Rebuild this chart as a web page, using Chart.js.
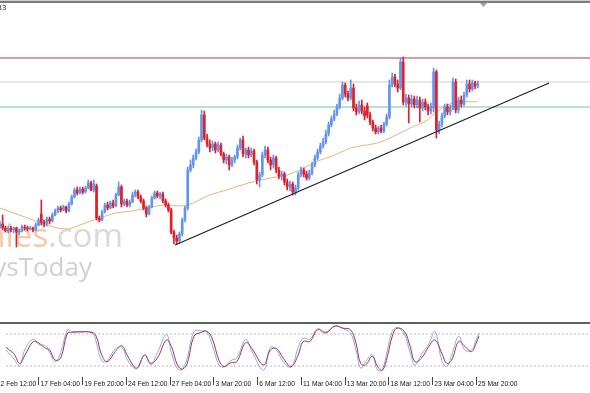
<!DOCTYPE html>
<html>
<head>
<meta charset="utf-8">
<script src="https://cdn.jsdelivr.net/npm/chart.js@4.4.1/dist/chart.umd.min.js"></script>
<style>
  html, body { margin: 0; padding: 0; background: #fff; }
  #wrap { position: relative; width: 590px; height: 393px; overflow: hidden; }
  canvas { position: absolute; left: 0; }
  #main { top: 0; }
  #osc { top: 322px; }
</style>
</head>
<body>
<div id="wrap">
  <canvas id="main" width="590" height="322"></canvas>
  <canvas id="osc" width="590" height="71"></canvas>
</div>
<script>
// H4 candles, [open, high, low, close] in chart points
const ohlc = [
  [93,99,91,96],[96,105,90,92],[92,94,88,89],[89,94,87,92],[92,94,88,90],
  [90,93,87,92],[92,93,73,88],[88,91,85,90],[90,95,88,93],[93,95,90,92],
  [92,94,89,91],[91,94,90,92],[92,93,88,90],[90,97,89,95],[95,102,94,100],
  [106,120,95,98],[98,100,93,96],[96,103,94,101],[101,103,96,99],[99,107,98,105],
  [105,111,104,109],[109,114,107,112],[112,114,108,110],[110,115,109,113],[113,114,107,109],
  [109,118,108,116],[116,125,115,123],[123,132,122,130],[130,133,125,127],[127,133,126,131],
  [131,133,126,128],[128,134,127,132],[132,140,131,137],[137,139,129,130],[130,140,128,136],
  [134,136,100,102],[102,104,98,100],[100,110,99,108],[108,117,107,115],[115,118,110,112],
  [112,119,111,117],[117,120,112,114],[114,127,113,125],[125,138,124,133],[133,135,113,116],
  [116,121,114,119],[119,121,113,115],[115,120,113,118],[118,128,117,125],[125,130,123,128],
  [128,130,121,123],[123,125,117,119],[119,121,110,112],[112,114,103,106],[106,115,105,113],
  [113,124,112,122],[122,129,121,127],[127,129,122,124],[124,128,121,126],[126,128,117,119],
  [119,121,113,115],[115,117,108,110],[110,112,86,88],[88,90,76,82],[82,85,76,79],
  [79,88,77,86],[86,102,84,100],[100,114,98,112],[112,153,110,150],[150,160,148,155],
  [155,165,152,162],[162,171,160,168],[168,183,166,180],[180,210,178,205],[205,209,180,182],
  [182,186,173,176],[176,180,168,172],[172,179,169,176],[176,178,167,170],[170,178,168,175],
  [175,177,164,166],[166,168,157,160],[160,166,156,163],[163,165,150,155],[155,163,153,160],
  [160,165,157,163],[163,175,161,172],[172,182,170,180],[180,184,163,166],[166,172,162,170],
  [170,173,162,165],[165,172,163,169],[169,171,155,158],[158,160,136,140],[140,148,133,145],
  [145,168,143,165],[165,174,162,170],[170,173,157,160],[160,163,150,155],[155,165,152,162],
  [162,164,147,150],[150,153,141,144],[144,149,140,146],[146,148,135,138],[138,141,130,133],
  [133,139,129,136],[136,138,125,128],[128,135,125,132],[132,148,130,145],[145,153,143,150],
  [150,152,143,146],[146,149,140,142],[142,150,140,147],[147,158,145,155],[155,165,153,162],
  [162,171,160,168],[168,177,166,174],[174,182,172,178],[178,190,176,186],[186,198,184,195],
  [195,204,193,201],[201,210,199,206],[206,216,204,213],[213,226,211,222],[222,238,220,235],
  [235,237,223,226],[226,229,219,222],[222,240,220,232],[232,236,209,212],[212,216,205,208],
  [208,219,206,215],[215,220,206,209],[209,213,200,204],[214,217,202,205],[205,208,195,198],
  [198,200,189,192],[192,195,186,188],[188,194,186,192],[192,195,187,189],[189,198,187,196],
  [196,206,194,203],[203,240,201,235],[235,247,233,243],[243,246,233,236],[236,240,228,232],
  [232,262,230,258],[258,263,215,218],[218,226,214,222],[222,225,197,216],[216,225,213,221],
  [221,224,212,215],[215,224,212,220],[220,223,198,212],[212,221,209,218],[218,221,210,213],
  [213,216,205,209],[209,217,206,214],[212,252,208,248],[248,250,182,190],[190,199,186,196],
  [196,207,193,204],[204,216,202,213],[213,216,205,208],[208,215,205,212],[212,242,210,238],
  [238,241,207,210],[210,223,207,220],[220,224,213,216],[216,228,214,225],[225,240,223,236],
  [236,240,228,231],[231,240,229,237],[237,239,231,234],[234,239,232,236]
];

// moving average (bar index, value)
const maIdx = [0,12,18,24,30,35,42,48,55,60,65,68,76,82,90,98,104,110,116,119.5,127,136.5,142,148.5,154.7,158,165.5,169,173];
const maVal = [112,100,94,91,96,101,107,109,113,115,114,115,125,130,137,142,145,152,160,163,172,177,183,192,200,208,218,218.5,218];

// support trend line
const trendIdx = [63.4, 198.8];
const trendVal = [75, 237];

// horizontal levels: resistance, mid, support
const levelVals = [262, 238, 213];

// stochastic oscillator (bar index, %K, %D)
const oscIdx = [0,3,5,7,10,12,14.5,16,18,20,22.5,24,26.5,31.5,33,35,37,40,42.4,44.6,
  47.8,50.7,53,55.4,58.7,60.5,62.7,64.5,66.3,68.8,71.4,73.5,75.4,77.9,79.7,82.2,84.4,87.7,89.9,94.2,
  96.7,98.9,101.4,104.3,106.9,108.7,111.2,114,117,120.3,123.2,126,128,129.7,131.5,134,135.9,137.7,139.5,141.3,
  143,145.7,147.8,149.6,152,154.7,156.9,159.4,161.2,163,165.6,167.8,170.3,172,173];
const stochK = [50,33,20,52,70,60,58,45,28,45, 88,85,84,82,65,30,30,52,55,30,
  15,40,23,45,79,45,15,14,35,85, 86,84,60,22,18,30,35,70,48,12,
  55,50,28,18,55,72,70,90,84,95, 90,82,50,16,28,41,12,14,50,85,
  92,80,45,22,42,62,85,30,19,40, 76,50,50,70,82];
const stochD = [55,42,25,41,66,63,53,50,31,35, 82,83,84,83,76,41,28,47,58,38,
  16,41,25,35,69,57,22,14,25,76, 83,85,72,31,19,26,28,64,53,22,
  50,53,35,19,41,66,66,88,82,95, 91,88,63,25,22,38,19,12,38,76,
  91,85,57,28,35,57,69,44,25,31, 66,57,47,63,76];
const oscLevels = [80, 20];

// time axis
const tickIdx = [-4, 12, 28, 44, 60, 76, 92, 108, 124, 140, 156, 172];
const tickLabels = ['12 Feb 12:00', '17 Feb 04:00', '19 Feb 20:00', '24 Feb 12:00', '27 Feb 04:00',
  '3 Mar 20:00', '6 Mar 12:00', '11 Mar 04:00', '13 Mar 20:00', '18 Mar 12:00', '23 Mar 04:00', '25 Mar 20:00'];

const xMin = 0.05, xMax = 213.6;
const UP = '#6495ed', DOWN = '#e0212a';
const candleColors = ohlc.map(c => (c[3] >= c[0] ? UP : DOWN));
const levelColors = ['#b03a4e', '#cdcdcd', '#74c3a0'];

// watermark, header text, frame
const mainDecor = {
  id: 'mainDecor',
  beforeDatasetsDraw(chart) {
    const ctx = chart.ctx;
    ctx.save();
    ctx.textBaseline = 'alphabetic';
    ctx.textAlign = 'right';
    ctx.font = '33px "Open Sans"';
    ctx.fillStyle = '#d9d9d9';
    ctx.fillText('.com', 123, 247);
    const w = ctx.measureText('.com').width;
    ctx.fillStyle = '#f7c8a8';
    ctx.fillText('economies', 123 - w, 247);
    ctx.font = '26px "Open Sans"';
    ctx.fillStyle = '#d0d0d0';
    ctx.fillText('ysToday', 92, 276);
    ctx.restore();
  },
  afterDraw(chart) {
    const ctx = chart.ctx;
    ctx.save();
    ctx.fillStyle = '#d0d0d0';
    ctx.fillRect(0, 0, 590, 1);
    ctx.fillStyle = '#7c7c7c';
    ctx.fillRect(0, 1, 590, 2);
    ctx.fillStyle = '#222';
    ctx.font = '7px "DejaVu Sans"';
    ctx.textAlign = 'right';
    ctx.fillText('33', 6.5, 10);
    ctx.fillStyle = '#a0a0a0';
    ctx.beginPath();
    ctx.moveTo(480, 3); ctx.lineTo(487, 3); ctx.lineTo(483.5, 7); ctx.closePath();
    ctx.fill();
    ctx.restore();
  }
};

new Chart(document.getElementById('main'), {
  type: 'bar',
  data: {
    datasets: [
      ...levelVals.map((v, k) => ({
        type: 'line', data: [{x: xMin, y: v}, {x: xMax, y: v}],
        borderColor: levelColors[k], borderWidth: 1, pointRadius: 0, order: 10
      })),
      {
        type: 'line', data: maIdx.map((x, k) => ({x: x, y: maVal[k]})),
        borderColor: '#ebb27a', borderWidth: 1, pointRadius: 0,
        cubicInterpolationMode: 'monotone', order: 6
      },
      {
        type: 'bar', data: ohlc.map((c, i) => ({x: i, y: [c[2], c[1]]})),
        backgroundColor: candleColors, barThickness: 1, grouped: false, order: 5
      },
      {
        type: 'bar', data: ohlc.map((c, i) => ({x: i, y: [c[0], c[3]]})),
        backgroundColor: candleColors, barThickness: 2, grouped: false, order: 4
      },
      {
        type: 'line', data: trendIdx.map((x, k) => ({x: x, y: trendVal[k]})),
        borderColor: '#1c1c1c', borderWidth: 1.1, pointRadius: 0, order: 1
      }
    ]
  },
  options: {
    responsive: false,
    animation: false,
    devicePixelRatio: 1,
    layout: { padding: { top: 3, bottom: 2, left: 0, right: 0 }, autoPadding: false },
    plugins: { legend: { display: false }, tooltip: { enabled: false } },
    scales: {
      x: { type: 'linear', min: xMin, max: xMax, offset: false, display: false },
      y: { min: 0, max: 317, display: false }
    }
  },
  plugins: [mainDecor]
});

const oscDecor = {
  id: 'oscDecor',
  afterDraw(chart) {
    const ctx = chart.ctx;
    ctx.save();
    ctx.fillStyle = '#5e5e5e';
    ctx.fillRect(0, 0, 590, 2);
    ctx.restore();
  }
};

new Chart(document.getElementById('osc'), {
  type: 'line',
  data: {
    datasets: [
      ...oscLevels.map(v => ({
        data: [{x: xMin, y: v}, {x: xMax, y: v}],
        borderColor: '#b8b8b8', borderWidth: 1, borderDash: [2, 2], pointRadius: 0, order: 5
      })),
      {
        data: oscIdx.map((x, k) => ({x: x, y: stochK[k]})),
        borderColor: '#86aee6', borderWidth: 1, pointRadius: 0, tension: 0.4, order: 2
      },
      {
        data: oscIdx.map((x, k) => ({x: x, y: stochD[k]})),
        borderColor: '#b02e4a', borderWidth: 1, pointRadius: 0, tension: 0.4, order: 1
      }
    ]
  },
  options: {
    responsive: false,
    animation: false,
    devicePixelRatio: 1,
    layout: { padding: { top: 2, bottom: 0, left: 0, right: 0 }, autoPadding: false },
    plugins: { legend: { display: false }, tooltip: { enabled: false } },
    scales: {
      x: {
        type: 'linear', min: xMin, max: xMax, offset: false, position: 'bottom',
        afterBuildTicks: s => { s.ticks = tickIdx.map(v => ({ value: v })); },
        afterFit: s => { s.height = 16; },
        grid: { drawOnChartArea: false, drawTicks: true, tickLength: 8, color: '#444', tickWidth: 1 },
        border: { display: false },
        ticks: {
          autoSkip: false, maxRotation: 0, minRotation: 0, align: 'start', padding: -5,
          color: '#111', font: { family: 'Liberation Sans', size: 6.7 },
          callback: (v, k) => ' ' + tickLabels[k]
        }
      },
      y: { min: -0.6, max: 98.75, display: false }
    }
  },
  plugins: [oscDecor]
});
</script>
</body>
</html>
